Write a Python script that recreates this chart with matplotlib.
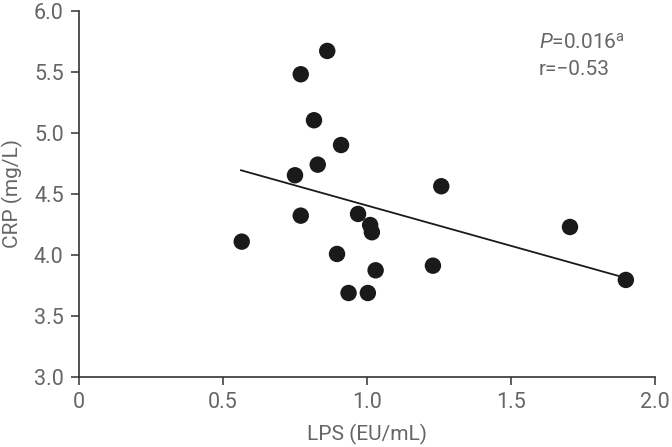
import matplotlib
matplotlib.use("Agg")
import matplotlib.pyplot as plt
import numpy as np

lps = [0.565, 0.862, 0.770, 0.816, 0.910, 0.829, 0.750, 0.770, 0.969, 1.011,
       1.017, 0.896, 1.030, 0.936, 1.003, 1.229, 1.258, 1.705, 1.899]
crp = [4.107, 5.67, 5.479, 5.102, 4.899, 4.738, 4.651, 4.320, 4.334, 4.243,
       4.184, 4.006, 3.872, 3.686, 3.686, 3.910, 4.561, 4.227, 3.793]

fit_x = [0.5625, 1.899]
fit_y = [4.692, 3.809]

xticks = [0, 0.5, 1.0, 1.5, 2.0]
xticklabels = ["0", "0.5", "1.0", "1.5", "2.0"]
yticks = [3.0, 3.5, 4.0, 4.5, 5.0, 5.5, 6.0]
yticklabels = ["3.0", "3.5", "4.0", "4.5", "5.0", "5.5", "6.0"]

plt.rcParams['font.family'] = ['Roboto', 'DejaVu Sans']
plt.rcParams['mathtext.fontset'] = 'custom'
plt.rcParams['mathtext.rm'] = 'Roboto'
plt.rcParams['mathtext.it'] = 'Roboto:italic'
txt = '#666666'

fig = plt.figure(figsize=(6.72, 4.47), dpi=100)
ax = fig.add_axes([0.1176, 0.1573, 0.857, 0.8188])

ax.plot(fit_x, fit_y, color='#1a1a1a', lw=1.3, zorder=2)
ax.scatter(lps, crp, s=140, color='#1a1a1a', edgecolors='none', zorder=3)

ax.set_xlim(0, 2.0)
ax.set_ylim(3.0, 6.0)
ax.set_xticks(xticks)
ax.set_xticklabels(xticklabels)
ax.set_yticks(yticks)
ax.set_yticklabels(yticklabels)

for s in ['top', 'right']:
    ax.spines[s].set_visible(False)
for s in ['left', 'bottom']:
    ax.spines[s].set_color('#333333')
    ax.spines[s].set_linewidth(1.2)

ax.tick_params(axis='both', direction='out', length=6, width=1.1, color='#333333',
               labelsize=15.5, labelcolor=txt, pad=5)

ax.set_xlabel('LPS (EU/mL)', fontsize=15, color=txt)
ax.set_ylabel('CRP (mg/L)', fontsize=15, color=txt)
ax.xaxis.set_label_coords(0.5009, -0.13)
ax.yaxis.set_label_coords(-0.098, 0.5)

ax.text(1.597, 5.686, r'$\it{P}$=0.016$^{\rm a}$', transform=ax.transData, fontsize=15,
        color=txt, ha='left', va='baseline')
ax.text(1.597, 5.473, 'r=\u22120.53', transform=ax.transData, fontsize=15,
        color=txt, ha='left', va='baseline')

fig.savefig('out.png', dpi=100)
